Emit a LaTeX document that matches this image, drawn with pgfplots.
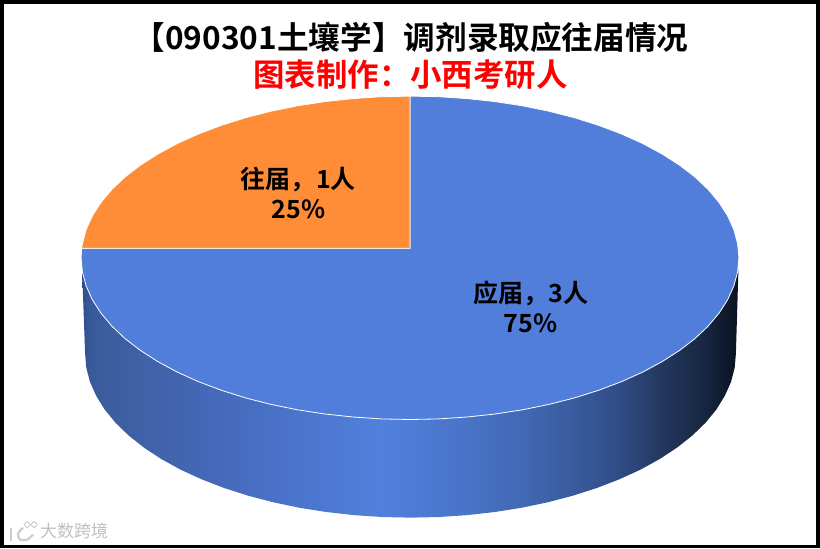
\documentclass[border=0pt]{standalone}
\usepackage{pgfplots}
\pgfplotsset{compat=1.18}
\usepackage{fontspec}
\newfontfamily\cjk{Noto Sans CJK SC}
\newfontfamily\cjkb{Noto Sans CJK SC Bold}
\newcommand{\fwcomma}{\char"FF0C\relax}
\newcommand{\fwcolon}{\char"FF1A\relax}
\definecolor{faceblue}{HTML}{517EDB}
\definecolor{faceorange}{HTML}{FF8C37}
\definecolor{s0}{HTML}{2F4D8A}
\definecolor{s1}{HTML}{385A9A}
\definecolor{s2}{HTML}{3C5E9F}
\definecolor{s3}{HTML}{4467B6}
\definecolor{s4}{HTML}{4B75CD}
\definecolor{s5}{HTML}{5180DC}
\definecolor{s6}{HTML}{4A76CC}
\definecolor{s7}{HTML}{4269B5}
\definecolor{s8}{HTML}{3A5C9F}
\definecolor{s9}{HTML}{2F4C85}
\definecolor{s10}{HTML}{24395F}
\definecolor{s11}{HTML}{182844}
\definecolor{s12}{HTML}{0A1220}
\pgfdeclarehorizontalshading{sideblue}{100bp}{
 color(0bp)=(s0); color(25bp)=(s0); color(25.6bp)=(s1); color(27.1bp)=(s2);
 color(34bp)=(s3); color(41.6bp)=(s4); color(48bp)=(s5); color(53bp)=(s6);
 color(58.4bp)=(s7); color(62.2bp)=(s8); color(66bp)=(s9); color(69bp)=(s10);
 color(72.1bp)=(s11); color(75bp)=(s12); color(100bp)=(s12)}
\begin{document}
\begin{tikzpicture}
\begin{axis}[
  scale only axis, width=820pt, height=548pt,
  xmin=0, xmax=820, ymin=0, ymax=548, y dir=reverse,
  hide axis, clip=true]
% side wall of the pie
\addplot[draw=none, shading=sideblue] coordinates {
 (82,270)(85,353)(86.2,367.3)(89.9,381.5)(96.1,395.4)(104.6,409.1)(115.4,422.3)(128.5,435.0)(143.8,447.1)(161,458.4)(180.2,469)(201.1,478.6)(223.6,487.3)(247.5,495)(272.6,501.6)(298.8,507.1)(325.9,511.4)(353.6,514.5)(381.7,516.4)(410,517)(438.3,516.4)(466.4,514.5)(494.1,511.4)(521.2,507.1)(547.4,501.6)(572.5,495)(596.4,487.3)(618.9,478.6)(639.8,469)(659,458.4)(676.2,447.1)(691.5,435)(704.6,422.3)(715.4,409.1)(723.9,395.4)(730.1,381.5)(733.8,367.3)(735,353)(737.5,270)
} -- cycle;
% 3 of 4: blue slice, top face
\addplot[fill=faceblue, draw=white, line width=0.8pt] coordinates {
 (409.5,248)(409.5,96)(438.1,96.6)(466.5,98.5)(494.5,101.5)(521.9,105.7)(548.3,111.1)(573.8,117.6)(597.9,125.2)(620.7,133.8)(641.8,143.3)(661.1,153.7)(678.6,164.9)(694,176.7)(707.2,189.2)(718.2,202.3)(726.8,215.7)(733,229.5)(736.7,243.4)(738,257.5)(736.7,271.6)(733,285.5)(726.8,299.3)(718.2,312.7)(707.2,325.8)(694,338.3)(678.6,350.1)(661.1,361.3)(641.8,371.7)(620.7,381.2)(597.9,389.8)(573.8,397.4)(548.3,403.9)(521.9,409.3)(494.5,413.5)(466.5,416.5)(438.1,418.4)(409.5,419)(380.9,418.4)(352.5,416.5)(324.5,413.5)(297.1,409.3)(270.7,403.9)(245.2,397.4)(221.1,389.8)(198.3,381.2)(177.2,371.7)(157.9,361.3)(140.4,350.1)(125,338.3)(111.8,325.8)(100.8,312.7)(92.2,299.3)(86,285.5)(82.3,271.6)(81,257.5)(81.6,248)
} -- cycle;
% 1 of 4: orange slice, top face
\addplot[fill=faceorange, draw=white, line width=0.8pt] coordinates {
 (409.5,248)(81.6,248)(82.3,243.4)(86,229.5)(92.2,215.7)(100.8,202.3)(111.8,189.2)(125,176.7)(140.4,164.9)(157.9,153.7)(177.2,143.3)(198.3,133.8)(221.1,125.2)(245.2,117.6)(270.7,111.1)(297.1,105.7)(324.5,101.5)(352.5,98.5)(380.9,96.6)(409.5,96)
} -- cycle;
% frame
\addplot[draw=black, line width=3.6pt] coordinates {(1.8,1.8)(817.2,1.8)(817.2,546)(1.8,546)} -- cycle;
% watermark logo
\addplot[draw=black!20, line width=2.2pt] coordinates {(11,527)(11,540)};
\addplot[draw=black!20, line width=2.2pt, smooth] coordinates {(23,527)(18,533)(20,539)(27,539)(33,534)};
\addplot[draw=black!20, line width=1pt, smooth] coordinates {(24,524)(27,521)(30,524)(27,527)(24,524)};
\addplot[draw=black!20, line width=1pt, smooth] coordinates {(31,524)(34,521)(37,524)(34,527)(31,524)};
\node[font=\cjkb\fontsize{31.6}{32}\selectfont, text=black] at (axis cs:410.5,37) {【090301土壤学】调剂录取应往届情况};
\node[font=\cjkb\fontsize{31.4}{32}\selectfont, text=red] at (axis cs:410,75) {图表制作\fwcolon 小西考研人};
\node[font=\cjkb\fontsize{25}{25}\selectfont, text=black, align=center] at (axis cs:298,193) {往届\fwcomma 1人\\[5pt]25\%};
\node[font=\cjkb\fontsize{25}{25}\selectfont, text=black, align=center] at (axis cs:530,307) {应届\fwcomma 3人\\[5pt]75\%};
\node[font=\cjk\fontsize{17}{17}\selectfont, text=black!25] at (axis cs:74,530) {大数跨境};
\end{axis}
\end{tikzpicture}
\end{document}
